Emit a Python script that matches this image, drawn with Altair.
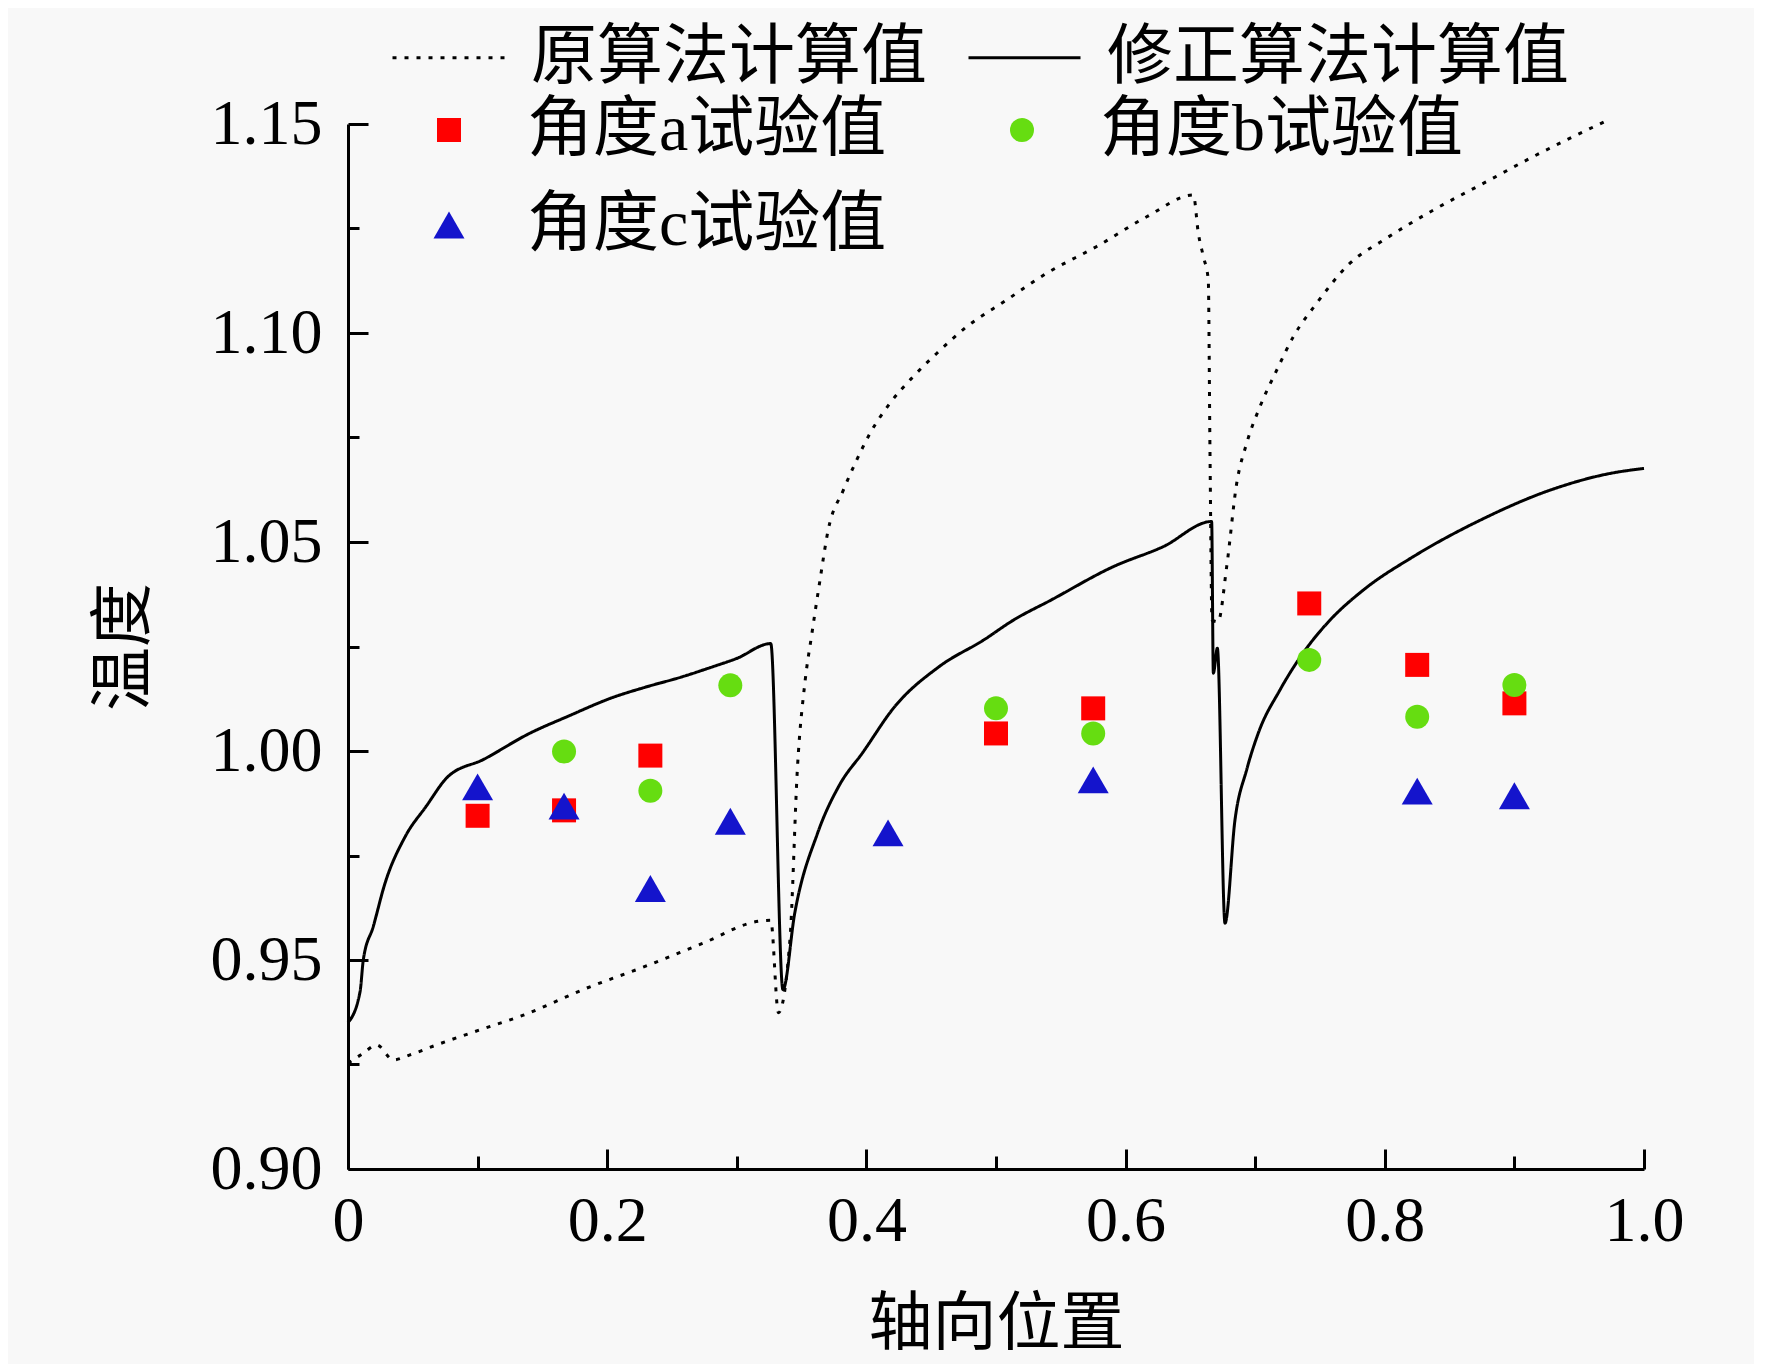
import pandas as pd
import altair as alt

# calculated curves (axial position, temperature)
orig_x = [0.0, 0.0118, 0.0221, 0.035, 0.0478, 0.0684, 0.1019, 0.1353, 0.1844, 0.2287, 0.273, 0.3173, 0.3262,
          0.3321, 0.341, 0.3468, 0.3528, 0.3578, 0.3642, 0.3704, 0.3822, 0.3925, 0.4028, 0.4182, 0.4362, 0.4542,
          0.4774, 0.5082, 0.5391, 0.5777, 0.6163, 0.6523, 0.6561, 0.66, 0.6638, 0.6651, 0.6667, 0.6713, 0.678,
          0.6857, 0.6934, 0.7037, 0.7166, 0.7294, 0.7474, 0.7731, 0.7989, 0.8374, 0.876, 0.9146, 0.9403, 0.9699]
orig_y = [0.9253, 0.9277, 0.9297, 0.9261, 0.9273, 0.9297, 0.9333, 0.9368, 0.9433, 0.9484, 0.9539, 0.9593, 0.9595,
          0.9374, 0.9548, 0.996, 1.017, 1.0278, 1.0409, 1.0527, 1.0624, 1.0696, 1.076, 1.0832, 1.0896, 1.0951,
          1.1015, 1.1079, 1.1143, 1.1207, 1.1278, 1.133, 1.1239, 1.1183, 1.1127, 1.072, 1.0313, 1.0309, 1.0441,
          1.064, 1.0736, 1.0824, 1.0911, 1.0991, 1.1071, 1.1167, 1.1222, 1.1294, 1.1358, 1.1422, 1.1462, 1.1506]

corr_x = [0.0, 0.0093, 0.0118, 0.0195, 0.0285, 0.0441, 0.0604, 0.0766, 0.1047, 0.14, 0.1697, 0.2051, 0.2287,
          0.2583, 0.2819, 0.2996, 0.3262, 0.3356, 0.3447, 0.3624, 0.3793, 0.3971, 0.4218, 0.4562, 0.4907, 0.5134,
          0.5424, 0.5905, 0.6291, 0.6664, 0.6677, 0.6708, 0.6767, 0.6844, 0.6934, 0.7024, 0.7191, 0.7397, 0.7577,
          0.7834, 0.822, 0.8735, 0.9275, 0.9738, 1.0]
corr_y = [0.935, 0.9424, 0.95, 0.958, 0.9683, 0.9795, 0.9868, 0.9937, 0.998, 1.0042, 1.0083, 1.0129, 1.0152,
          1.0178, 1.0202, 1.0221, 1.0257, 0.9429, 0.9612, 0.9804, 0.9919, 0.9996, 1.0106, 1.0202, 1.0266, 1.0313,
          1.0361, 1.0441, 1.0489, 1.0549, 1.0186, 1.0246, 0.9588, 0.9835, 0.9955, 1.0043, 1.0146, 1.0246, 1.0313,
          1.0385, 1.0465, 1.0552, 1.0624, 1.0664, 1.0676]

# test values
a_x = [0.1, 0.1667, 0.2333, 0.5, 0.575, 0.7417, 0.825, 0.9]
a_y = [0.9845, 0.9858, 0.9989, 1.0042, 1.0102, 1.0353, 1.0206, 1.0114]
b_x = [0.1667, 0.2333, 0.295, 0.5, 0.575, 0.7417, 0.825, 0.9]
b_y = [0.9999, 0.9905, 1.0157, 1.0102, 1.0042, 1.0218, 1.0082, 1.0158]
c_x = [0.1, 0.1667, 0.2333, 0.295, 0.4167, 0.575, 0.825, 0.9]
c_y = [0.9914, 0.9868, 0.9671, 0.9832, 0.9804, 0.9931, 0.9904, 0.9893]

line_names = ["原算法计算值", "修正算法计算值"]
point_names = ["角度a试验值", "角度b试验值", "角度c试验值"]

x_major = [0, 0.2, 0.4, 0.6, 0.8, 1.0]
x_ticks = [0, 0.1, 0.2, 0.3, 0.4, 0.5, 0.6, 0.7, 0.8, 0.9, 1.0]
y_major = [0.90, 0.95, 1.00, 1.05, 1.10, 1.15]
y_ticks = [0.90, 0.925, 0.95, 0.975, 1.00, 1.025, 1.05, 1.075, 1.10, 1.125, 1.15]

# build tables
lines = pd.concat([
    pd.DataFrame({"x": orig_x, "y": orig_y, "series": line_names[0], "i": range(len(orig_x))}),
    pd.DataFrame({"x": corr_x, "y": corr_y, "series": line_names[1], "i": range(len(corr_x))}),
])
points = pd.concat([
    pd.DataFrame({"x": a_x, "y": a_y, "series": point_names[0]}),
    pd.DataFrame({"x": b_x, "y": b_y, "series": point_names[1]}),
    pd.DataFrame({"x": c_x, "y": c_y, "series": point_names[2]}),
])

W, H = 1296, 1045
NUM_FONT = "Liberation Serif"
CJK_FONT = "Noto Sans CJK SC"
MIX_FONT = "'Liberation Serif', 'Noto Sans CJK SC'"

x_scale = alt.Scale(domain=[0, 1.0], nice=False, zero=False)
y_scale = alt.Scale(domain=[0.9, 1.15], nice=False, zero=False)

line_layer = alt.Chart(lines).mark_line(color="black", strokeWidth=3, clip=False, interpolate="monotone").encode(
    x=alt.X("x:Q", scale=x_scale, axis=alt.Axis(
        orient="bottom", values=x_major, ticks=False, grid=False, domainWidth=3, domainColor="black",
        labelExpr="datum.value == 0 ? '0' : format(datum.value, '.1f')", labelFlush=False,
        labelFont=NUM_FONT, labelFontSize=64, labelColor="black", labelPadding=20,
        title="轴向位置", titleFont=CJK_FONT, titleFontSize=64, titleFontWeight="normal", titleColor="black",
        titleX=W / 2, titleY=155, titleBaseline="middle", titleAlign="center")),
    y=alt.Y("y:Q", scale=y_scale, axis=alt.Axis(
        orient="left", values=y_major, format=".2f", ticks=False, grid=False, domainWidth=3, domainColor="black",
        labelFont=NUM_FONT, labelFontSize=64, labelColor="black", labelPadding=26, labelFlush=False,
        title="温度", titleFont=CJK_FONT, titleFontSize=64, titleFontWeight="normal", titleColor="black",
        titleX=-224, titleY=H / 2, titleAngle=-90, titleBaseline="middle", titleAlign="center")),
    strokeDash=alt.StrokeDash("series:N", scale=alt.Scale(domain=line_names, range=[[4, 8], [1, 0]]),
                              legend=alt.Legend(
                                  title=None, orient="none", direction="horizontal", legendX=43, legendY=-124,
                                  symbolType="stroke", symbolSize=12544, symbolStrokeWidth=3,
                                  symbolStrokeColor="black", labelOffset=25, columnPadding=35,
                                  labelFont=MIX_FONT, labelFontSize=66, labelColor="black", labelLimit=0,
                                  padding=0)),
    order="i:Q",
)

point_legend = alt.Legend(
    title=None, orient="none", direction="horizontal", columns=2, legendX=68, legendY=-27,
    rowPadding=29, columnPadding=102, labelOffset=45,
    labelFont=MIX_FONT, labelFontSize=66, labelColor="black", labelLimit=0,
    symbolOpacity=1, symbolStrokeWidth=0, padding=0)

point_layer = alt.Chart(points).mark_point(filled=True, opacity=1, clip=False).encode(
    x=alt.X("x:Q", scale=x_scale, axis=alt.Axis(
        orient="top", offset=-H, values=x_ticks, labels=False, domain=False, grid=False, title=None,
        tickColor="black", tickWidth=3,
        tickSize={"condition": {"test": "round(datum.value * 10) % 2 === 0", "value": 20}, "value": 13})),
    y=alt.Y("y:Q", scale=y_scale, axis=alt.Axis(
        orient="right", offset=-W, values=y_ticks, labels=False, domain=False, grid=False, title=None,
        tickColor="black", tickWidth=3,
        tickSize={"condition": {"test": "round(datum.value * 1000) % 50 === 0", "value": 20}, "value": 11})),
    color=alt.Color("series:N", scale=alt.Scale(domain=point_names, range=["#ff0000", "#66dd11", "#1414cc"]),
                    legend=point_legend),
    shape=alt.Shape("series:N", scale=alt.Scale(domain=point_names, range=["square", "circle", "triangle-up"]),
                    legend=point_legend),
    size=alt.Size("series:N", scale=alt.Scale(type="ordinal", domain=point_names, range=[576, 576, 961]),
                  legend=point_legend),
)

chart = (
    alt.layer(line_layer, point_layer)
    .resolve_axis(x="independent", y="independent")
    .resolve_scale(x="shared", y="shared")
    .properties(width=W, height=H, autosize="none",
                padding={"left": 340, "top": 116, "right": 110, "bottom": 195},
                background="#f8f8f8")
    .configure_view(stroke=None)
)

chart.save("out.html", embed_options={"renderer": "svg", "actions": False})
